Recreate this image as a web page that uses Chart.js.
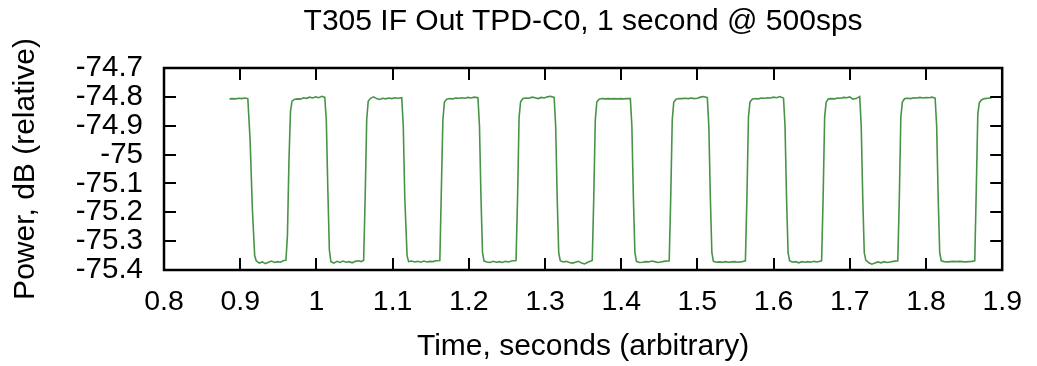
<!DOCTYPE html>
<html>
<head>
<meta charset="utf-8">
<script src="https://cdn.jsdelivr.net/npm/chart.js@4/dist/chart.umd.min.js"></script>
<style>
  html, body { margin: 0; padding: 0; background: #fff; }
  #c { display: block; }
</style>
</head>
<body>
<canvas id="c" width="1037" height="366"></canvas>
<script>
const chartTitle = 'T305 IF Out TPD-C0, 1 second @ 500sps';
const xAxisTitle = 'Time, seconds (arbitrary)';
const yAxisTitle = 'Power, dB (relative)';

const xTickValues = [0.8, 0.9, 1.0, 1.1, 1.2, 1.3, 1.4, 1.5, 1.6, 1.7, 1.8, 1.9];
const xTickLabels = ['0.8', '0.9', '1', '1.1', '1.2', '1.3', '1.4', '1.5', '1.6', '1.7', '1.8', '1.9'];
const yTickValues = [-75.4, -75.3, -75.2, -75.1, -75.0, -74.9, -74.8, -74.7];
const yTickLabels = ['-75.4', '-75.3', '-75.2', '-75.1', '-75', '-74.9', '-74.8', '-74.7'];

const timeSeconds = [
  0.886,0.890,0.894,0.898,0.902,0.906,0.910,
  0.913,0.916,0.919,
  0.921,0.925,0.929,0.933,0.937,0.941,0.945,0.949,0.953,0.957,0.960,
  0.962,0.964,0.966,0.968,
  0.971,0.975,0.979,0.983,0.987,0.991,0.995,0.999,1.003,1.007,1.011,
  1.013,1.015,1.017,
  1.019,1.023,1.027,1.031,1.035,1.039,1.043,1.047,1.051,1.055,1.059,1.062,
  1.064,1.066,1.068,
  1.071,1.075,1.079,1.083,1.087,1.091,1.095,1.099,1.103,1.107,1.112,
  1.114,1.116,1.119,
  1.121,1.125,1.129,1.133,1.137,1.141,1.145,1.149,1.153,1.157,1.162,
  1.164,1.166,1.168,
  1.171,1.175,1.179,1.183,1.187,1.191,1.195,1.199,1.203,1.207,1.212,
  1.214,1.216,1.218,
  1.220,1.224,1.228,1.232,1.236,1.240,1.244,1.248,1.252,1.256,1.262,
  1.264,1.266,1.268,
  1.271,1.275,1.279,1.283,1.287,1.291,1.295,1.299,1.303,1.307,1.312,
  1.314,1.316,1.318,
  1.320,1.324,1.328,1.332,1.336,1.340,1.344,1.348,1.352,1.356,1.362,
  1.364,1.366,1.368,
  1.371,1.375,1.379,1.383,1.387,1.391,1.395,1.399,1.403,1.407,1.412,
  1.414,1.416,1.418,
  1.420,1.424,1.428,1.432,1.436,1.440,1.444,1.448,1.452,1.456,1.463,
  1.465,1.467,1.469,
  1.472,1.476,1.480,1.484,1.488,1.492,1.496,1.500,1.504,1.508,1.513,
  1.515,1.517,1.519,
  1.521,1.525,1.529,1.533,1.537,1.541,1.545,1.549,1.553,1.557,1.563,
  1.565,1.567,1.569,
  1.572,1.576,1.580,1.584,1.588,1.592,1.596,1.600,1.604,1.608,1.613,
  1.615,1.617,1.619,
  1.621,1.625,1.629,1.633,1.637,1.641,1.645,1.649,1.653,1.657,1.663,
  1.665,1.667,1.669,
  1.672,1.676,1.680,1.684,1.688,1.692,1.696,1.700,1.704,1.708,1.713,
  1.715,1.717,1.719,
  1.721,1.725,1.729,1.733,1.737,1.741,1.745,1.749,1.753,1.757,1.763,
  1.765,1.767,1.769,
  1.772,1.776,1.780,1.784,1.788,1.792,1.796,1.800,1.804,1.808,1.812,
  1.814,1.816,1.818,
  1.820,1.824,1.828,1.832,1.836,1.840,1.844,1.848,1.852,1.856,1.860,1.864,
  1.866,1.868,1.870,
  1.873,1.877,1.881,1.886
];

const powerDb = [
  -74.807,-74.806,-74.807,-74.805,-74.806,-74.804,-74.806,
  -74.95,-75.19,-75.35,
  -75.368,-75.376,-75.372,-75.378,-75.373,-75.369,-75.374,-75.371,-75.373,-75.367,-75.366,
  -75.28,-75.02,-74.85,-74.815,
  -74.809,-74.807,-74.808,-74.803,-74.805,-74.801,-74.804,-74.800,-74.803,-74.798,-74.802,
  -74.88,-75.12,-75.33,
  -75.371,-75.376,-75.370,-75.374,-75.369,-75.373,-75.371,-75.375,-75.370,-75.368,-75.371,-75.366,
  -75.15,-74.88,-74.815,
  -74.805,-74.800,-74.806,-74.809,-74.805,-74.807,-74.804,-74.806,-74.803,-74.805,-74.803,
  -74.90,-75.15,-75.35,
  -75.371,-75.369,-75.372,-75.370,-75.373,-75.369,-75.372,-75.370,-75.371,-75.368,-75.367,
  -75.12,-74.88,-74.818,
  -74.808,-74.806,-74.807,-74.804,-74.805,-74.803,-74.805,-74.802,-74.804,-74.801,-74.803,
  -74.90,-75.15,-75.34,
  -75.369,-75.372,-75.374,-75.370,-75.373,-75.371,-75.374,-75.370,-75.372,-75.369,-75.367,
  -75.15,-74.87,-74.817,
  -74.806,-74.804,-74.805,-74.801,-74.803,-74.806,-74.802,-74.804,-74.800,-74.798,-74.802,
  -74.90,-75.15,-75.34,
  -75.368,-75.372,-75.370,-75.374,-75.376,-75.373,-75.370,-75.376,-75.379,-75.373,-75.367,
  -75.15,-74.88,-74.818,
  -74.808,-74.806,-74.807,-74.806,-74.807,-74.806,-74.807,-74.806,-74.807,-74.806,-74.806,
  -74.90,-75.15,-75.34,
  -75.370,-75.374,-75.373,-75.371,-75.372,-75.369,-75.371,-75.374,-75.372,-75.370,-75.368,
  -75.15,-74.88,-74.818,
  -74.808,-74.806,-74.806,-74.805,-74.806,-74.804,-74.806,-74.805,-74.801,-74.799,-74.803,
  -74.90,-75.15,-75.34,
  -75.370,-75.373,-75.372,-75.373,-75.371,-75.373,-75.372,-75.371,-75.373,-75.372,-75.368,
  -75.15,-74.87,-74.818,
  -74.808,-74.806,-74.807,-74.804,-74.805,-74.803,-74.804,-74.801,-74.803,-74.799,-74.804,
  -74.90,-75.15,-75.34,
  -75.368,-75.373,-75.371,-75.375,-75.371,-75.373,-75.371,-75.373,-75.370,-75.372,-75.368,
  -75.15,-74.87,-74.818,
  -74.807,-74.806,-74.807,-74.804,-74.805,-74.802,-74.803,-74.800,-74.808,-74.806,-74.799,
  -74.90,-75.15,-75.34,
  -75.366,-75.375,-75.380,-75.376,-75.372,-75.375,-75.371,-75.374,-75.372,-75.370,-75.368,
  -75.15,-74.87,-74.818,
  -74.806,-74.805,-74.806,-74.803,-74.804,-74.802,-74.804,-74.802,-74.803,-74.801,-74.804,
  -74.90,-75.15,-75.34,
  -75.368,-75.371,-75.372,-75.371,-75.370,-75.371,-75.370,-75.371,-75.372,-75.371,-75.370,-75.368,
  -75.12,-74.86,-74.820,
  -74.810,-74.806,-74.805,-74.804
];

Chart.defaults.font.family = "'Liberation Sans', Arial, Helvetica, sans-serif";
Chart.defaults.color = '#000';

const TICK_LEN = 12;

const framePlugin = {
  id: 'frame',
  afterDatasetsDraw(chart) {
    const { ctx, chartArea: a, scales } = chart;
    ctx.save();
    ctx.strokeStyle = '#000';
    ctx.lineWidth = 2;
    ctx.beginPath();
    scales.x.ticks.forEach(t => {
      const px = Math.round(scales.x.getPixelForValue(t.value));
      ctx.moveTo(px, a.bottom); ctx.lineTo(px, a.bottom - TICK_LEN);
      ctx.moveTo(px, a.top); ctx.lineTo(px, a.top + TICK_LEN);
    });
    scales.y.ticks.forEach(t => {
      const py = Math.round(scales.y.getPixelForValue(t.value));
      ctx.moveTo(a.left, py); ctx.lineTo(a.left + TICK_LEN, py);
      ctx.moveTo(a.right, py); ctx.lineTo(a.right - TICK_LEN, py);
    });
    ctx.stroke();
    ctx.lineWidth = 2.5;
    ctx.strokeRect(a.left, a.top, a.right - a.left, a.bottom - a.top);
    ctx.restore();
  }
};

new Chart(document.getElementById('c'), {
  type: 'line',
  data: {
    datasets: [{
      label: 'Power',
      data: timeSeconds.map((t, i) => ({ x: t, y: powerDb[i] })),
      borderColor: '#479447',
      borderWidth: 1.6,
      pointRadius: 0,
      tension: 0,
      fill: false
    }]
  },
  options: {
    responsive: false,
    animation: false,
    devicePixelRatio: 1,
    layout: { padding: { left: 0, right: 31, top: 0, bottom: 0 } },
    plugins: {
      legend: { display: false },
      tooltip: { enabled: false },
      title: { display: false }
    },
    scales: {
      x: {
        type: 'linear',
        position: 'bottom',
        min: 0.8, max: 1.9,
        afterBuildTicks: s => { s.ticks = xTickValues.map(v => ({ value: v })); },
        afterFit: s => { s.height = 96; },
        ticks: {
          autoSkip: false, maxRotation: 0, padding: 15,
          font: { size: 28.5 }, color: '#000',
          callback: (v, i) => xTickLabels[i]
        },
        grid: { display: false, drawTicks: false },
        border: { display: false },
        title: {
          display: true, text: xAxisTitle, color: '#000',
          font: { size: 30 }, padding: { top: 0, bottom: 1 }
        }
      },
      xTop: {
        type: 'linear',
        position: 'top',
        min: 0.8, max: 1.9,
        afterFit: s => { s.height = 68; },
        ticks: { display: false },
        grid: { display: false, drawTicks: false },
        border: { display: false },
        title: {
          display: true, text: chartTitle, color: '#000',
          font: { size: 30 }, padding: { top: 4, bottom: 0 }
        }
      },
      y: {
        type: 'linear',
        position: 'left',
        min: -75.4, max: -74.7,
        afterBuildTicks: s => { s.ticks = yTickValues.map(v => ({ value: v })); },
        afterFit: s => { s.width = 164; },
        ticks: {
          autoSkip: false, padding: 21,
          font: { size: 29.5 }, color: '#000',
          callback: (v, i) => yTickLabels[i]
        },
        grid: { display: false, drawTicks: false },
        border: { display: false },
        title: {
          display: true, text: yAxisTitle, color: '#000',
          font: { size: 30 }, padding: { top: 8, bottom: 0 }
        }
      }
    }
  },
  plugins: [framePlugin]
});
</script>
</body>
</html>
